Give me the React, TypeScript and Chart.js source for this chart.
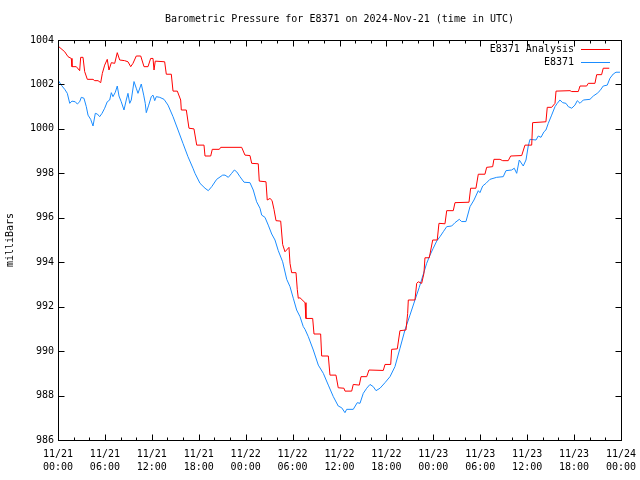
import React, { useEffect, useRef } from "react";
import { Chart, registerables } from "chart.js";

Chart.register(...registerables);

const TITLE = "Barometric Pressure for E8371 on 2024-Nov-21 (time in UTC)";
const Y_TITLE = "milliBars";
const SERIES_NAMES = ["E8371 Analysis", "E8371"];
const SERIES_COLORS = ["#ff0000", "#1a8cff"];

const xDateLabels = ["11/21", "11/21", "11/21", "11/21", "11/22", "11/22", "11/22", "11/22", "11/23", "11/23", "11/23", "11/23", "11/24"];
const xTimeLabels = ["00:00", "06:00", "12:00", "18:00", "00:00", "06:00", "12:00", "18:00", "00:00", "06:00", "12:00", "18:00", "00:00"];
const yTickValues = [986, 988, 990, 992, 994, 996, 998, 1000, 1002, 1004];

// hours since 2024-11-21 00:00 UTC
const analysisHours = [
  0, 0.86, 1.28, 1.7, 1.79, 2.34, 2.77, 2.9, 3.2, 3.41,
  3.75, 4.48, 4.69, 5.12, 5.46, 5.67, 5.97, 6.3, 6.52, 6.82,
  7.25, 7.58, 7.89, 8.53, 8.95, 9.3, 9.59, 10.01, 10.58, 11.0,
  11.51, 11.85, 12.15, 12.28, 12.44, 13.64, 13.85, 14.49, 14.71, 15.26,
  15.69, 15.77, 16.41, 16.75, 17.39, 17.74, 18.67, 18.8, 19.53, 19.73,
  20.63, 20.81, 23.49, 23.91, 24.55, 24.77, 25.61, 25.74, 26.6, 26.76,
  27.11, 27.37, 27.62, 27.88, 28.48, 28.73, 29.03, 29.54, 29.67, 29.88,
  30.44, 30.6, 30.73, 30.95, 31.59, 31.71, 32.57, 32.74, 33.59, 33.72,
  34.57, 34.78, 35.55, 35.84, 36.57, 36.7, 37.56, 37.76, 38.53, 38.75,
  39.48, 39.77, 41.6, 41.82, 42.55, 42.67, 43.39, 43.73, 44.5, 44.72,
  44.8, 45.65, 45.87, 46.07, 46.51, 46.8, 46.93, 47.48, 47.92, 48.5,
  48.72, 49.49, 49.71, 50.55, 50.77, 52.56, 52.77, 53.45, 53.75, 54.6,
  54.82, 55.59, 55.75, 56.52, 56.87, 57.58, 57.89, 59.3, 59.72, 60.58,
  60.7, 62.4, 62.57, 63.13, 63.56, 63.69, 65.48, 65.7, 66.54, 66.76,
  67.61, 67.81, 68.67, 68.89, 69.52, 69.73, 70.5,
];
const analysisPressure = [
  1003.73, 1003.47, 1003.25, 1003.17, 1002.8, 1002.8, 1002.62, 1003.22, 1003.22, 1002.58,
  1002.23, 1002.23, 1002.17, 1002.17, 1002.08, 1002.5, 1002.87, 1003.13, 1002.65, 1002.98,
  1002.95, 1003.43, 1003.1, 1003.07, 1003.02, 1002.8, 1002.95, 1003.28, 1003.28, 1002.8,
  1002.8, 1003.17, 1003.17, 1002.65, 1003.05, 1003.02, 1002.46, 1002.46, 1001.7, 1001.7,
  1001.3, 1000.85, 1000.85, 1000.03, 1000.0, 999.27, 999.27, 998.78, 998.78, 999.08,
  999.08, 999.17, 999.17, 998.82, 998.8, 998.45, 998.43, 997.65, 997.62, 996.8,
  996.87, 996.78, 996.38, 995.87, 995.85, 994.8, 994.47, 994.67, 993.95, 993.53,
  993.53, 992.78, 992.38, 992.4, 992.18, 991.47, 991.47, 990.77, 990.77, 989.78,
  989.78, 988.92, 988.92, 988.35, 988.33, 988.2, 988.2, 988.5, 988.47, 988.85,
  988.85, 989.15, 989.13, 989.4, 989.4, 990.08, 990.1, 990.92, 990.95, 991.7,
  992.3, 992.3, 993.05, 993.12, 993.05, 993.5, 994.2, 994.2, 995.0, 995.0,
  995.75, 995.73, 996.32, 996.32, 996.68, 996.7, 997.33, 997.33, 997.96, 997.96,
  998.27, 998.3, 998.63, 998.63, 998.57, 998.57, 998.78, 998.8, 999.27, 999.27,
  1000.28, 1000.32, 1000.97, 1000.97, 1001.15, 1001.7, 1001.72, 1001.68, 1001.68, 1001.93,
  1001.93, 1002.05, 1002.05, 1002.44, 1002.44, 1002.73, 1002.73,
];

const stationHours = [
  0, 0.42, 0.86, 1.19, 1.5, 1.79, 2.21, 2.47, 2.77, 2.98,
  3.32, 3.62, 3.84, 4.18, 4.48, 4.77, 5.03, 5.33, 5.63, 5.97,
  6.3, 6.61, 6.82, 7.03, 7.33, 7.58, 7.8, 8.09, 8.44, 8.73,
  8.95, 9.17, 9.37, 9.72, 10.01, 10.23, 10.65, 10.96, 11.16, 11.29,
  11.6, 11.93, 12.15, 12.37, 12.57, 13.01, 13.56, 14.07, 14.71, 15.35,
  15.98, 16.62, 17.26, 17.52, 18.16, 18.8, 19.22, 19.66, 20.29, 21.06,
  21.36, 21.78, 22.21, 22.55, 22.85, 23.27, 23.79, 24.55, 24.97, 25.4,
  25.83, 26.05, 26.47, 26.89, 27.33, 27.75, 28.17, 28.73, 29.25, 29.67,
  30.09, 30.52, 30.95, 31.37, 31.59, 32.01, 32.65, 33.29, 33.93, 34.57,
  35.21, 35.84, 36.28, 36.7, 36.92, 37.76, 38.27, 38.62, 39.04, 39.48,
  39.9, 40.32, 40.67, 41.18, 41.82, 42.46, 43.09, 43.73, 44.37, 45.01,
  45.65, 46.2, 46.71, 47.15, 47.57, 47.99, 48.43, 48.85, 49.27, 49.71,
  50.35, 50.77, 51.32, 51.62, 52.17, 52.69, 53.2, 53.75, 53.96, 54.31,
  54.73, 55.24, 56.1, 56.94, 57.29, 58.02, 58.35, 58.66, 58.99, 59.5,
  59.85, 60.14, 60.36, 61.13, 61.42, 61.77, 62.15, 62.4, 62.7, 63.13,
  63.56, 63.85, 64.19, 64.54, 64.96, 65.26, 65.7, 66.11, 66.41, 66.76,
  67.18, 68.03, 68.46, 68.96, 69.31, 69.73, 70.24, 70.59, 71.01, 71.36,
  71.87,
];
const stationPressure = [
  1002.2, 1001.97, 1001.78, 1001.6, 1001.15, 1001.25, 1001.22, 1001.12, 1001.22, 1001.42,
  1001.38, 1001.0, 1000.62, 1000.43, 1000.13, 1000.7, 1000.67, 1000.55, 1000.7, 1000.93,
  1001.22, 1001.3, 1001.63, 1001.45, 1001.65, 1001.93, 1001.48, 1001.22, 1000.85, 1001.3,
  1001.6, 1001.15, 1001.3, 1002.13, 1001.83, 1001.6, 1002.02, 1001.52, 1001.15, 1000.73,
  1001.07, 1001.45, 1001.52, 1001.27, 1001.45, 1001.42, 1001.33, 1001.07, 1000.55, 999.95,
  999.35, 998.75, 998.23, 998.0, 997.55, 997.33, 997.22, 997.4, 997.73, 997.92,
  997.92, 997.82, 998.0, 998.15, 998.07, 997.85, 997.6, 997.58, 997.25, 996.72,
  996.43, 996.12, 996.02, 995.67, 995.27, 995.0, 994.52, 994.02, 993.23, 992.9,
  992.38, 991.85, 991.55, 991.1, 990.98, 990.65, 990.05, 989.37, 989.0, 988.47,
  987.95, 987.53, 987.45, 987.23, 987.38, 987.38, 987.68, 987.65, 988.1, 988.33,
  988.5, 988.4, 988.22, 988.33, 988.58, 988.85, 989.3, 990.12, 990.95, 991.62,
  992.3, 992.87, 993.45, 993.95, 994.32, 994.63, 994.95, 995.15, 995.37, 995.6,
  995.63, 995.78, 995.93, 995.83, 995.83, 996.5, 996.8, 997.22, 997.13, 997.43,
  997.55, 997.73, 997.82, 997.85, 998.12, 998.15, 998.23, 998.0, 998.6, 998.33,
  998.6, 999.23, 999.53, 999.5, 999.68, 999.62, 999.87, 999.95, 1000.25, 1000.62,
  1001.0, 1001.15, 1001.3, 1001.18, 1001.15, 1001.0, 1000.93, 1001.07, 1001.27, 1001.15,
  1001.3, 1001.33, 1001.48, 1001.6, 1001.72, 1001.93, 1001.97, 1002.28, 1002.47, 1002.55,
  1002.55,
];

const X_MIN = 0;
const X_MAX = 72;
const X_MAJOR_STEP = 6;
const X_MINOR_STEP = 2;
const FONT_FAMILY = "'DejaVu Sans Mono', 'Liberation Mono', monospace";

const framePlugin = {
  id: "gnuplotFrame",
  afterDatasetsDraw(chart: any) {
    const { ctx, chartArea, scales } = chart;
    const { left, right, top, bottom } = chartArea;
    const xs = scales.x;
    const ys = scales.y;
    ctx.save();
    ctx.strokeStyle = "#000";
    ctx.lineWidth = 1;
    ctx.beginPath();
    const L = Math.round(left) + 0.5;
    const R = Math.round(right) + 0.5;
    const T = Math.round(top) + 0.5;
    const B = Math.round(bottom) + 0.5;
    for (const v of yTickValues) {
      const py = Math.round(ys.getPixelForValue(v)) + 0.5;
      ctx.moveTo(L, py);
      ctx.lineTo(L + 6, py);
      ctx.moveTo(R, py);
      ctx.lineTo(R - 6, py);
    }
    for (let h = X_MIN; h <= X_MAX; h += X_MINOR_STEP) {
      const px = Math.round(xs.getPixelForValue(h)) + 0.5;
      const len = h % X_MAJOR_STEP === 0 ? 6 : 3;
      ctx.moveTo(px, B);
      ctx.lineTo(px, B - len);
      ctx.moveTo(px, T);
      ctx.lineTo(px, T + len);
    }
    ctx.stroke();
    ctx.strokeRect(L, T, R - L, B - T);

    ctx.font = `10px ${FONT_FAMILY}`;
    ctx.fillStyle = "#000";
    // title, centred over the plot area
    ctx.textAlign = "center";
    ctx.textBaseline = "middle";
    ctx.fillText(TITLE, (left + right) / 2, 19);

    // legend (gnuplot style: text, then line sample)
    ctx.textAlign = "right";
    chart.data.datasets.forEach((ds: any, i: number) => {
      const yy = Math.round(top) + 9 + i * 13;
      ctx.fillStyle = "#000";
      ctx.fillText(ds.label, right - 47, yy);
      ctx.strokeStyle = ds.borderColor;
      ctx.beginPath();
      ctx.moveTo(right - 40, yy + 0.5);
      ctx.lineTo(right - 11, yy + 0.5);
      ctx.stroke();
    });
    ctx.restore();
  },
};

export default function App() {
  const canvasRef = useRef<HTMLCanvasElement | null>(null);

  useEffect(() => {
    const canvas = canvasRef.current;
    if (!canvas) return;
    const chart = new Chart(canvas, {
      type: "line",
      data: {
        datasets: [
          {
            label: SERIES_NAMES[0],
            data: analysisHours.map((h, i) => ({ x: h, y: analysisPressure[i] })),
            borderColor: SERIES_COLORS[0],
            backgroundColor: SERIES_COLORS[0],
            borderWidth: 1,
            pointRadius: 0,
            tension: 0,
            fill: false,
          },
          {
            label: SERIES_NAMES[1],
            data: stationHours.map((h, i) => ({ x: h, y: stationPressure[i] })),
            borderColor: SERIES_COLORS[1],
            backgroundColor: SERIES_COLORS[1],
            borderWidth: 1,
            pointRadius: 0,
            tension: 0,
            fill: false,
          },
        ],
      },
      options: {
        animation: false,
        responsive: false,
        maintainAspectRatio: false,
        layout: { padding: { left: 0, right: 19, top: 40, bottom: 0 } },
        plugins: {
          legend: { display: false },
          tooltip: { enabled: false },
          title: { display: false },
        },
        scales: {
          x: {
            type: "linear",
            min: X_MIN,
            max: X_MAX,
            grid: { display: false, drawTicks: false },
            border: { display: false },
            afterFit: (scale: any) => {
              scale.height = 40;
              scale.paddingLeft = 0;
              scale.paddingRight = 0;
            },
            ticks: {
              stepSize: X_MAJOR_STEP,
              autoSkip: false,
              maxRotation: 0,
              minRotation: 0,
              padding: 8,
              color: "#000",
              font: { family: FONT_FAMILY, size: 10, lineHeight: 1.3 },
              callback: (value: any) => {
                const idx = Math.round(Number(value) / X_MAJOR_STEP);
                return [xDateLabels[idx], xTimeLabels[idx]];
              },
            },
          },
          y: {
            type: "linear",
            min: yTickValues[0],
            max: yTickValues[yTickValues.length - 1],
            grid: { display: false, drawTicks: false },
            border: { display: false },
            afterFit: (scale: any) => {
              scale.width = 58;
              scale.paddingTop = 0;
              scale.paddingBottom = 0;
            },
            title: {
              display: true,
              text: Y_TITLE,
              color: "#000",
              font: { family: FONT_FAMILY, size: 10 },
              padding: { top: 4, bottom: 4 },
            },
            ticks: {
              stepSize: 2,
              padding: 4,
              color: "#000",
              font: { family: FONT_FAMILY, size: 10 },
              callback: (value: any) => String(value),
            },
          },
        },
      },
      plugins: [framePlugin],
    });
    return () => chart.destroy();
  }, []);

  return (
    <div style={{ position: "fixed", left: 0, top: 0, width: 640, height: 480, background: "#fff" }}>
      <canvas ref={canvasRef} width={640} height={480} />
    </div>
  );
}
